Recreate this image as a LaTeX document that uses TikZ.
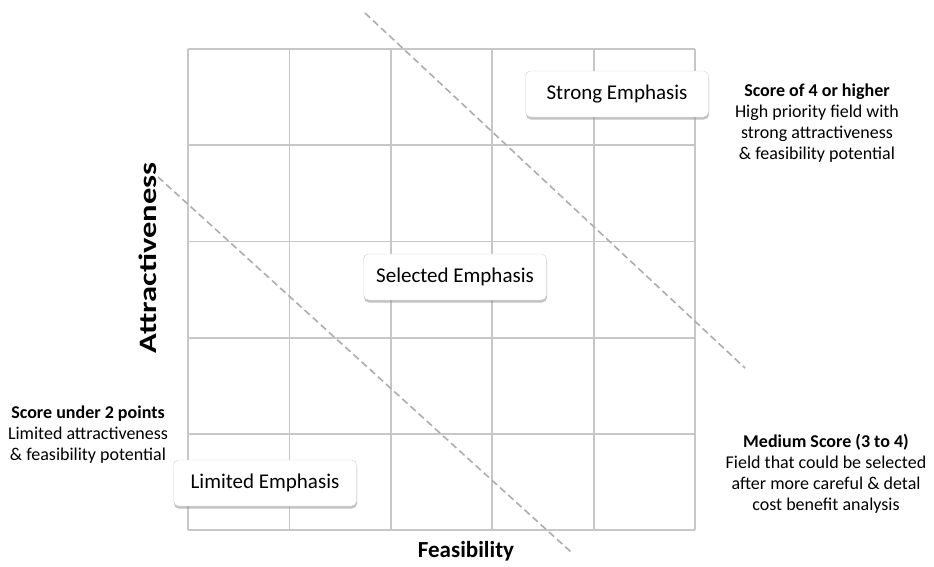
\documentclass[tikz,border=0pt]{standalone}
\usepackage{fontspec}
\usepackage{graphicx}
\setmainfont{Carlito}
\usetikzlibrary{positioning,shadows,calc}

\begin{document}
\begin{tikzpicture}[x=1pt, y=-1pt,
    gridline/.style={draw=black!22, line width=1.8pt},
    zoneline/.style={draw=black!32, line width=1.6pt, dash pattern=on 7pt off 4pt},
    emphbox/.style={draw=black!18, fill=white, rounded corners=5pt, minimum width=183pt, minimum height=46pt, font=\fontsize{21}{24}\selectfont,
        drop shadow={shadow xshift=0.5pt, shadow yshift=-2.5pt, fill=black!40, opacity=0.6}},
    note/.style={align=center, font=\fontsize{18}{21}\selectfont},
    axislbl/.style={font=\fontsize{23}{26}\selectfont\bfseries},
]
\useasboundingbox (0,0) rectangle (934,566);

% ===== GRID =====
\foreach \i in {0,...,5} {
    \draw[gridline] ({188+\i*101.4},49) -- ({188+\i*101.4},530);
    \draw[gridline] (188,{49+\i*96.2}) -- (695,{49+\i*96.2});
}

% ===== ZONE BORDERS =====
\coordinate (hightop) at (365,13);
\coordinate (highend) at (745,368);
\coordinate (lowtop) at (158,177);
\coordinate (lowend) at (571,552);
\draw[zoneline] (hightop) -- (highend);
\draw[zoneline] (lowtop) -- (lowend);

% ===== ZONE BOXES =====
\node[emphbox] (strong) at (617,94) {Strong Emphasis};
\node[emphbox] (selected) at (455,277) {Selected Emphasis};
\node[emphbox] (limited) at (265,483) {Limited Emphasis};

% ===== AXES =====
\node[axislbl, font=\fontsize{25}{28}\selectfont\bfseries, rotate=90] (attract) at (148,258) {\scalebox{1.3}[1]{Attractiveness}};
\node[axislbl] (feas) at (466,551) {Feasibility};

% ===== NOTES =====
\node[note] (highnote) at (817,123.5) {\textbf{Score of 4 or higher}\\High priority field with\\strong attractiveness\\\& feasibility potential};
\node[note] (lownote) at (88,434.5) {\textbf{Score under 2 points}\\Limited attractiveness\\\& feasibility potential};
\node[note] (midnote) at (826,473.5) {\textbf{Medium Score (3 to 4)}\\Field that could be selected\\after more careful \& detal\\cost benefit analysis};

\end{tikzpicture}
\end{document}
